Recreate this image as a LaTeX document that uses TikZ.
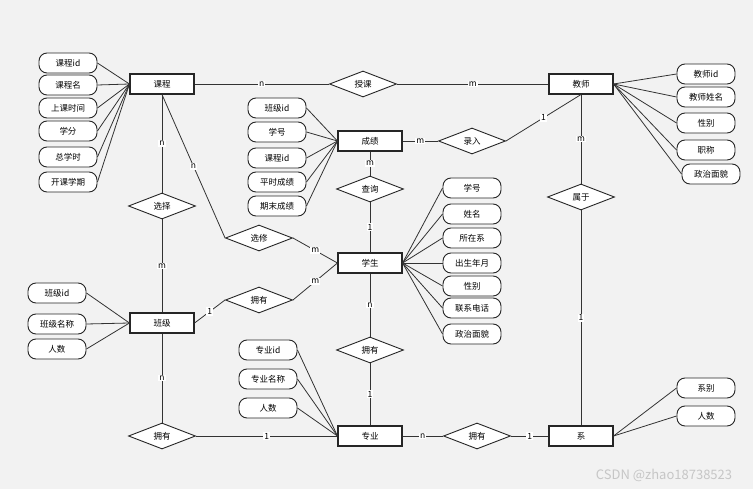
\documentclass[tikz,border=0pt]{standalone}
\usepackage{fontspec}
\setmainfont{Noto Sans CJK SC}
\usetikzlibrary{shapes.geometric}

\begin{document}
\begin{tikzpicture}[x=1pt, y=-1pt, font=\fontsize{8.5}{10}\selectfont,
  entity/.style={draw=black!85, line width=1.1pt, fill=white, minimum width=64pt, minimum height=20pt, inner sep=0pt},
  attr/.style={draw=black!85, line width=0.9pt, fill=white, rounded corners=8pt, minimum width=58pt, minimum height=20pt, inner sep=0pt},
  rel/.style={diamond, draw=black!85, line width=0.9pt, fill=white, minimum width=67pt, minimum height=26pt, inner sep=0pt, shape aspect=2.6},
  card/.style={fill=white, inner sep=1pt},
  link/.style={draw=black!80, line width=0.8pt}]

% Background
\fill[gray!10] (0,0) rectangle (753,489);

% Entities
\node[entity] (kecheng) at (162,84) {课程};
\node[entity] (jiaoshi) at (581,84) {教师};
\node[entity] (chengji) at (370,141) {成绩};
\node[entity] (xuesheng) at (370,263) {学生};
\node[entity] (banji) at (162,323) {班级};
\node[entity] (zhuanye) at (370,436) {专业};
\node[entity] (xi) at (581,436) {系};

% Relationships
\node[rel] (shouke) at (363,84) {授课};
\node[rel] (luru) at (472,141) {录入};
\node[rel] (chaxun) at (370,189) {查询};
\node[rel] (xuanze) at (162,206) {选择};
\node[rel] (xuanxiu) at (259,238) {选修};
\node[rel] (shuyu) at (581,197) {属于};
\node[rel] (yongyouA) at (259,300) {拥有};
\node[rel] (yongyouB) at (370,350) {拥有};
\node[rel] (yongyouC) at (162,436) {拥有};
\node[rel] (yongyouD) at (477,436) {拥有};

% Attributes of 课程
\node[attr] (kc1) at (68,63) {课程id}; \draw[link] (kc1.east) -- (kecheng.west);
\node[attr] (kc2) at (68,85) {课程名}; \draw[link] (kc2.east) -- (kecheng.west);
\node[attr] (kc3) at (68,108) {上课时间}; \draw[link] (kc3.east) -- (kecheng.west);
\node[attr] (kc4) at (68,131) {学分}; \draw[link] (kc4.east) -- (kecheng.west);
\node[attr] (kc5) at (68,157) {总学时}; \draw[link] (kc5.east) -- (kecheng.west);
\node[attr] (kc6) at (68,182) {开课学期}; \draw[link] (kc6.east) -- (kecheng.west);

% Attributes of 成绩
\node[attr] (cj1) at (277,108) {班级id}; \draw[link] (cj1.east) -- (chengji.west);
\node[attr] (cj2) at (277,132) {学号}; \draw[link] (cj2.east) -- (chengji.west);
\node[attr] (cj3) at (277,158) {课程id}; \draw[link] (cj3.east) -- (chengji.west);
\node[attr] (cj4) at (277,182) {平时成绩}; \draw[link] (cj4.east) -- (chengji.west);
\node[attr] (cj5) at (277,206) {期末成绩}; \draw[link] (cj5.east) -- (chengji.west);

% Attributes of 教师
\node[attr] (js1) at (706,74) {教师id}; \draw[link] (jiaoshi.east) -- (js1.west);
\node[attr] (js2) at (706,97) {教师姓名}; \draw[link] (jiaoshi.east) -- (js2.west);
\node[attr] (js3) at (706,123) {性别}; \draw[link] (jiaoshi.east) -- (js3.west);
\node[attr] (js4) at (706,150) {职称}; \draw[link] (jiaoshi.east) -- (js4.west);
\node[attr] (js5) at (711,174) {政治面貌}; \draw[link] (jiaoshi.east) -- (js5.west);

% Attributes of 学生
\node[attr] (xs1) at (472,188) {学号}; \draw[link] (xuesheng.east) -- (xs1.west);
\node[attr] (xs2) at (472,214) {姓名}; \draw[link] (xuesheng.east) -- (xs2.west);
\node[attr] (xs3) at (472,238) {所在系}; \draw[link] (xuesheng.east) -- (xs3.west);
\node[attr] (xs4) at (472,263) {出生年月}; \draw[link] (xuesheng.east) -- (xs4.west);
\node[attr] (xs5) at (472,286) {性别}; \draw[link] (xuesheng.east) -- (xs5.west);
\node[attr] (xs6) at (472,308) {联系电话}; \draw[link] (xuesheng.east) -- (xs6.west);
\node[attr] (xs7) at (472,334) {政治面貌}; \draw[link] (xuesheng.east) -- (xs7.west);

% Attributes of 班级
\node[attr] (bj1) at (57,293) {班级id}; \draw[link] (bj1.east) -- (banji.west);
\node[attr] (bj2) at (57,324) {班级名称}; \draw[link] (bj2.east) -- (banji.west);
\node[attr] (bj3) at (57,349) {人数}; \draw[link] (bj3.east) -- (banji.west);

% Attributes of 专业
\node[attr] (zy1) at (268,350) {专业id}; \draw[link] (zy1.east) -- (zhuanye.west);
\node[attr] (zy2) at (268,379) {专业名称}; \draw[link] (zy2.east) -- (zhuanye.west);
\node[attr] (zy3) at (268,408) {人数}; \draw[link] (zy3.east) -- (zhuanye.west);

% Attributes of 系
\node[attr] (xb1) at (706,388) {系别}; \draw[link] (xi.east) -- (xb1.west);
\node[attr] (xb2) at (706,416) {人数}; \draw[link] (xi.east) -- (xb2.west);

% Connectors with cardinalities
\draw[link] (kecheng) -- node[card] {n} (shouke);
\draw[link] (shouke) -- node[card] {m} (jiaoshi);
\draw[link] (chengji) -- node[card] {m} (luru);
\draw[link] (luru.east) -- node[card] {1} (jiaoshi.south);
\draw[link] (chengji) -- node[card] {m} (chaxun);
\draw[link] (chaxun) -- node[card] {1} (xuesheng);
\draw[link] (kecheng) -- node[card] {n} (xuanze);
\draw[link] (xuanze) -- node[card] {m} (banji);
\draw[link] (kecheng.south) -- node[card] {n} (xuanxiu.west);
\draw[link] (xuanxiu.east) -- node[card] {m} (xuesheng.west);
\draw[link] (banji.east) -- node[card] {1} (yongyouA.west);
\draw[link] (yongyouA.east) -- node[card] {m} (xuesheng.west);
\draw[link] (xuesheng) -- node[card] {n} (yongyouB);
\draw[link] (yongyouB) -- node[card] {1} (zhuanye);
\draw[link] (banji) -- node[card] {n} (yongyouC);
\draw[link] (yongyouC) -- node[card] {1} (zhuanye);
\draw[link] (zhuanye) -- node[card] {n} (yongyouD);
\draw[link] (yongyouD) -- node[card] {1} (xi);
\draw[link] (jiaoshi) -- node[card] {m} (shuyu);
\draw[link] (shuyu) -- node[card] {1} (xi);

% Watermark
\node[text=gray!45, font=\fontsize{13}{15}\selectfont] (wm) at (664,475) {CSDN @zhao18738523};

\end{tikzpicture}
\end{document}
